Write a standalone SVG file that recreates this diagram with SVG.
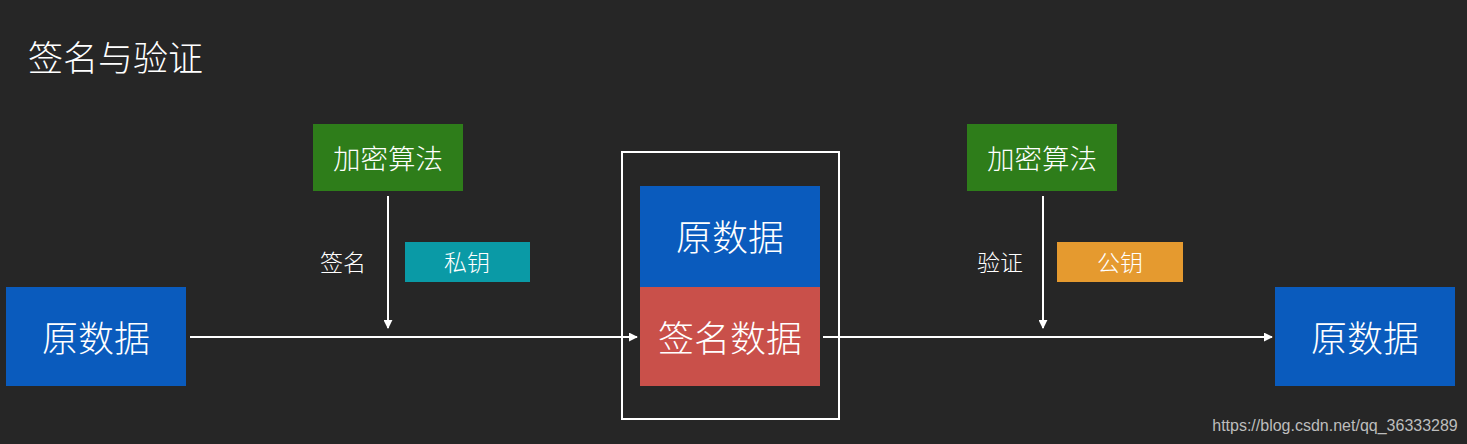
<svg xmlns="http://www.w3.org/2000/svg" width="1467" height="444" viewBox="0 0 1467 444">
<style>
text{font-family:"Noto Sans CJK SC","Noto Sans",sans-serif;font-weight:300;fill:#ffffff;text-anchor:middle;dominant-baseline:central}
.blue{fill:#0a5bbd}
.green{fill:#2e7d1a}
.c{stroke:#ffffff;stroke-width:2;fill:none}
.big{font-size:36px}
.mid{font-size:27.5px}
.sm{font-size:23px}
</style>
<defs>
<marker id="ah" viewBox="0 0 10 10" refX="9" refY="5" markerWidth="9" markerHeight="9" markerUnits="userSpaceOnUse" orient="auto">
<path d="M0,0 L10,5 L0,10 z" fill="#ffffff"/>
</marker>
</defs>
<rect width="1467" height="444" fill="#262626"/>
<text x="28" y="55" style="font-size:35px;text-anchor:start">签名与验证</text>
<g id="connectors">
<line class="c" x1="190" y1="337" x2="637" y2="337" marker-end="url(#ah)"/>
<line class="c" x1="823" y1="337" x2="1272" y2="337" marker-end="url(#ah)"/>
<line class="c" x1="388" y1="196" x2="388" y2="328" marker-end="url(#ah)"/>
<line class="c" x1="1043" y1="196" x2="1043" y2="328" marker-end="url(#ah)"/>
<text class="sm" x="343" y="261">签名</text>
<text class="sm" x="1000" y="261">验证</text>
</g>
<g id="src">
<rect class="blue" x="6" y="287" width="180" height="99"/>
<text class="big" x="96" y="336">原数据</text>
</g>
<g id="alg1">
<rect class="green" x="313" y="124" width="150" height="67"/>
<text class="mid" x="388" y="157">加密算法</text>
</g>
<g id="key1">
<rect x="405" y="242" width="125" height="40" fill="#0a9aa6"/>
<text class="sm" x="467" y="261">私钥</text>
</g>
<g id="package">
<rect x="622" y="152" width="217" height="267" fill="none" stroke="#ffffff" stroke-width="2"/>
<rect class="blue" x="640" y="186" width="180" height="101"/>
<text class="big" x="730" y="235">原数据</text>
<rect x="640" y="287" width="180" height="99" fill="#c9504a"/>
<text class="big" x="730" y="336">签名数据</text>
</g>
<g id="alg2">
<rect class="green" x="967" y="124" width="150" height="67"/>
<text class="mid" x="1042" y="157">加密算法</text>
</g>
<g id="key2">
<rect x="1057" y="242" width="126" height="40" fill="#e59a2f"/>
<text class="sm" x="1120" y="261">公钥</text>
</g>
<g id="dst">
<rect class="blue" x="1275" y="287" width="180" height="99"/>
<text class="big" x="1365" y="336">原数据</text>
</g>
<text x="1335" y="425" style="font-family:'Liberation Sans',sans-serif;font-weight:400;font-size:16px;fill:#bdbdbd">https://blog.csdn.net/qq_36333289</text>
</svg>
